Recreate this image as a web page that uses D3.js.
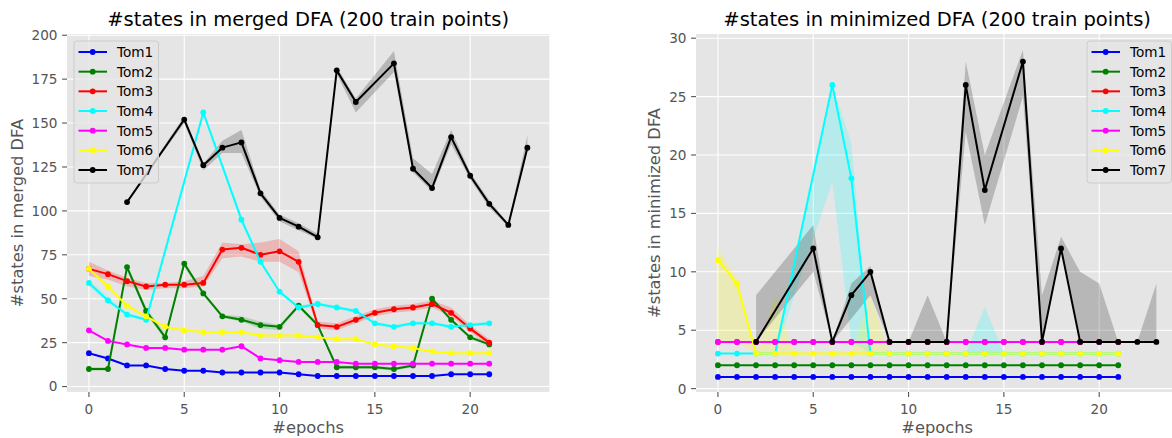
<!DOCTYPE html>
<html><head><meta charset="utf-8">
<script src="https://cdn.jsdelivr.net/npm/d3@7"></script>
<style>body{margin:0;background:#fff;} svg{display:block;} text{font-family:"DejaVu Sans",sans-serif;}</style>
</head><body><svg id="c" width="1172" height="438"></svg>
<script>
// ---------- data ----------
const epochs = [0,1,2,3,4,5,6,7,8,9,10,11,12,13,14,15,16,17,18,19,20,21,22,23];
const seriesNames = ["Tom1","Tom2","Tom3","Tom4","Tom5","Tom6","Tom7"];
const seriesColors = ["#0000ff","#008000","#ff0000","#00ffff","#ff00ff","#ffff00","#000000"];
const xTicks = [0,5,10,15,20];
const mergedTicks = [0,25,50,75,100,125,150,175,200];
const minimizedTicks = [0,5,10,15,20,25,30];

// merged DFA (left)
const mergedTom1 = [19,16,12,12,10,9,9,8,8,8,8,7,6,6,6,6,6,6,6,7,7,7];
const mergedTom2 = [10,10,68,43,28,70,53,40,38,35,34,46,35,11,11,11,10,12,50,38,28,24];
const mergedTom3 = [67,64,60,57,58,58,59,78,79,75,77,71,35,34,38,42,44,45,47,42,33,25];
const mergedTom4 = [59,49,41,38,null,null,156,null,95,71,54,45,47,45,43,36,34,36,36,34,35,36];
const mergedTom5 = [32,26,24,22,22,21,21,21,23,16,15,14,14,14,13,13,13,13,13,13,13,13];
const mergedTom6 = [67,57,46,40,34,32,31,31,31,29,29,29,28,27,27,24,23,22,20,19,19,19];
const mergedTom7 = [null,null,105,null,null,152,126,136,139,110,96,91,85,180,162,null,184,124,113,142,120,104,92,136];

const mergedTom2Lo = [9,9,66,41,27,68,52,39,37,33,32,45,34,10,10,10,9,11,49,37,27,23];
const mergedTom2Hi = [11,11,69,45,30,71,54,41,40,37,35,47,36,12,12,12,11,13,51,39,29,25];
const mergedTom3Lo = [63,61,57,55,56,56,57,73,74,71,71,65,33,32,36,40,42,43,45,40,31,23];
const mergedTom3Hi = [71,66,62,59,59,60,63,82,81,82,84,77,37,36,40,44,46,47,49,45,35,27];
const mergedTom4Lo = [57,48,40,37,null,null,155,null,93,70,53,44,46,44,42,35,33,35,35,33,34,35];
const mergedTom4Hi = [61,51,42,39,null,null,157,null,97,72,55,46,48,46,44,37,35,37,37,35,36,37];
const mergedTom7Lo = [null,null,105,null,null,150,123,133,133,108,94,89,84,178,156,null,179,122,111,138,118,102,91,134];
const mergedTom7Hi = [null,null,105,null,null,154,127,140,146,112,98,93,87,182,164,null,191,130,121,146,122,106,93,143];

// minimized DFA (right)
const minTom1 = [1,1,1,1,1,1,1,1,1,1,1,1,1,1,1,1,1,1,1,1,1,1];
const minTom2 = [2,2,2,2,2,2,2,2,2,2,2,2,2,2,2,2,2,2,2,2,2,2];
const minTom3 = [4,4,4,4,4,4,4,4,4,4,4,4,4,4,4,4,4,4,4,4,4,4];
const minTom4 = [3,3,3,3,null,null,26,18,3,3,3,3,3,3,3,3,3,3,3,3,3,3];
const minTom5 = [4,4,4,4,4,4,4,4,4,4,4,4,4,4,4,4,4,4,4,4,4,4];
const minTom6 = [11,9,3,3,3,3,3,3,3,3,3,3,3,3,3,3,3,3,3,3,3,3];
const minTom7 = [null,null,4,null,null,12,4,8,10,4,4,4,4,26,17,null,28,4,12,4,4,4,4,4];

const minTom4Lo = [3,3,3,3,null,null,17.7,4,3,3,3,3,3,3,3,3,3,3,3,3,3,3];
const minTom4Hi = [3,3,3,3,null,null,26,21,3,3,3,3,3,3,7,3,3,3,3,3,3,3];
const minTom6Lo = [4,4,3,3,3,3,3,3,3,3,3,3,3,3,3,3,3,3,3,3,3,3];
const minTom6Hi = [12,9.5,3,8,3,3,3,3,8,3,3,3,3,3,3,3,3,3,3,3,3,3];
const minTom7Lo = [null,null,4,null,null,10,4,6,8,4,4,4,4,22,14,null,25,4,12,4,4,4,4,4];
const minTom7Hi = [null,null,8,null,null,14,4,9,10.5,4,4,8,4,28,20,null,29,8,13,10,9,4,4,9];

// ---------- layout ----------
const panels = [
  {title:"#states in merged DFA (200 train points)", ylabel:"#states in merged DFA",
   x0:67, x1:549.3, ydom:[-3.1,200.7], yticks:mergedTicks, ylabelX:23,
   values:[mergedTom1,mergedTom2,mergedTom3,mergedTom4,mergedTom5,mergedTom6,mergedTom7],
   lo:[null,mergedTom2Lo,mergedTom3Lo,mergedTom4Lo,null,null,mergedTom7Lo],
   hi:[null,mergedTom2Hi,mergedTom3Hi,mergedTom4Hi,null,null,mergedTom7Hi],
   legendX:74},
  {title:"#states in minimized DFA (200 train points)", ylabel:"#states in minimized DFA",
   x0:696, x1:1178.3, ydom:[-0.29,30.36], yticks:minimizedTicks, ylabelX:660,
   values:[minTom1,minTom2,minTom3,minTom4,minTom5,minTom6,minTom7],
   lo:[null,null,null,minTom4Lo,null,minTom6Lo,minTom7Lo],
   hi:[null,null,null,minTom4Hi,null,minTom6Hi,minTom7Hi],
   legendX:1087}
];
const plotTop = 34, plotBottom = 392;
const svg = d3.select("#c");
const tickColor = "#555555";

panels.forEach(p => {
  const x = d3.scaleLinear().domain([-1.15, 24.15]).range([p.x0, p.x1]);
  const y = d3.scaleLinear().domain(p.ydom).range([plotBottom, plotTop]);
  const g = svg.append("g");

  g.append("rect").attr("x", p.x0).attr("y", plotTop).attr("width", p.x1 - p.x0)
    .attr("height", plotBottom - plotTop).attr("fill", "#e5e5e5");

  // grid
  g.selectAll(null).data(xTicks).enter().append("line")
    .attr("x1", d => x(d)).attr("x2", d => x(d)).attr("y1", plotTop).attr("y2", plotBottom)
    .attr("stroke", "#ffffff").attr("stroke-width", 1.1);
  g.selectAll(null).data(p.yticks).enter().append("line")
    .attr("x1", p.x0).attr("x2", p.x1).attr("y1", d => y(d)).attr("y2", d => y(d))
    .attr("stroke", "#ffffff").attr("stroke-width", 1.1);

  // bands
  p.values.forEach((vals, i) => {
    if (!p.lo[i]) return;
    const pts = vals.map((v, k) => ({e: epochs[k], v, lo: p.lo[i][k], hi: p.hi[i][k]}))
      .filter(d => d.v !== null && d.lo !== null && d.lo !== undefined);
    const area = d3.area().x(d => x(d.e)).y0(d => y(d.lo)).y1(d => y(d.hi));
    g.append("path").attr("d", area(pts)).attr("fill", seriesColors[i]).attr("fill-opacity", 0.2);
  });

  // lines and markers
  p.values.forEach((vals, i) => {
    const pts = vals.map((v, k) => ({e: epochs[k], v})).filter(d => d.v !== null);
    const line = d3.line().x(d => x(d.e)).y(d => y(d.v));
    g.append("path").attr("d", line(pts)).attr("fill", "none")
      .attr("stroke", seriesColors[i]).attr("stroke-width", 2).attr("stroke-linejoin", "round");
    g.selectAll(null).data(pts).enter().append("circle")
      .attr("cx", d => x(d.e)).attr("cy", d => y(d.v)).attr("r", 2.9)
      .attr("fill", seriesColors[i]);
  });

  // x axis ticks
  g.selectAll(null).data(xTicks).enter().append("line")
    .attr("x1", d => x(d)).attr("x2", d => x(d)).attr("y1", plotBottom).attr("y2", plotBottom + 4.9)
    .attr("stroke", tickColor).attr("stroke-width", 1.1);
  g.selectAll(null).data(xTicks).enter().append("text")
    .attr("x", d => x(d)).attr("y", 414).attr("text-anchor", "middle")
    .attr("font-size", 13.6).attr("fill", tickColor).text(d => d);
  // y axis ticks
  g.selectAll(null).data(p.yticks).enter().append("line")
    .attr("x1", p.x0 - 4.9).attr("x2", p.x0).attr("y1", d => y(d)).attr("y2", d => y(d))
    .attr("stroke", tickColor).attr("stroke-width", 1.1);
  g.selectAll(null).data(p.yticks).enter().append("text")
    .attr("x", p.x0 - 9.5).attr("y", d => y(d)).attr("dy", "0.36em").attr("text-anchor", "end")
    .attr("font-size", 13.6).attr("fill", tickColor).text(d => d);

  const cx = (p.x0 + p.x1) / 2;
  g.append("text").attr("x", cx).attr("y", 433).attr("text-anchor", "middle")
    .attr("font-size", 16.3).attr("fill", tickColor).text("#epochs");
  g.append("text").attr("transform", `translate(${p.ylabelX},${(plotTop + plotBottom) / 2}) rotate(-90)`)
    .attr("text-anchor", "middle").attr("font-size", 16.3).attr("fill", tickColor).text(p.ylabel);
  g.append("text").attr("x", cx).attr("y", 26).attr("text-anchor", "middle")
    .attr("font-size", 19.5).attr("fill", "#000000").text(p.title);

  // legend
  const lg = g.append("g");
  lg.append("rect").attr("x", p.legendX).attr("y", 41).attr("width", 84.5).attr("height", 142)
    .attr("rx", 3).attr("fill", "#e5e5e5").attr("fill-opacity", 0.8)
    .attr("stroke", "#cccccc").attr("stroke-width", 1);
  seriesNames.forEach((name, i) => {
    const ry = 52 + 19.67 * i;
    lg.append("line").attr("x1", p.legendX + 4.5).attr("x2", p.legendX + 33)
      .attr("y1", ry).attr("y2", ry).attr("stroke", seriesColors[i]).attr("stroke-width", 2);
    lg.append("circle").attr("cx", p.legendX + 18.7).attr("cy", ry).attr("r", 2.9).attr("fill", seriesColors[i]);
    lg.append("text").attr("x", p.legendX + 43).attr("y", ry).attr("dy", "0.36em")
      .attr("font-size", 13.6).attr("fill", "#000000").text(name);
  });
});
</script></body></html>
